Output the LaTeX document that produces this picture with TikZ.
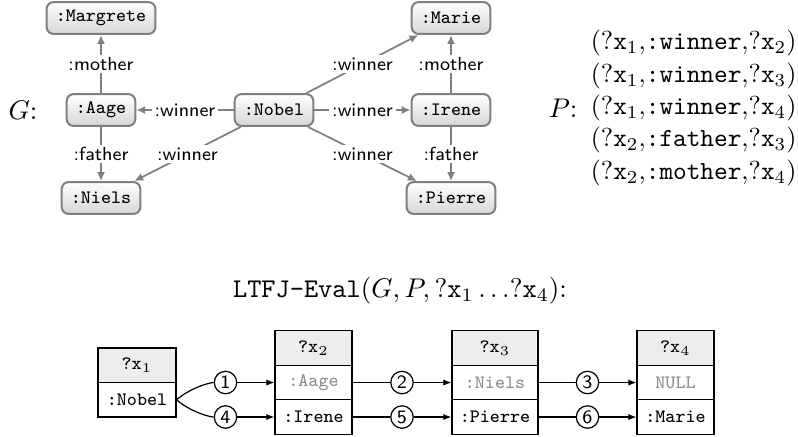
\documentclass[tikz,border=0pt]{standalone}
\usepackage{graphicx}
\usetikzlibrary{arrows.meta}
\newcommand{\ptrip}[1]{\scalebox{0.963}{#1}}
\begin{document}
\begin{tikzpicture}[x=0.37pt,y=-0.37pt,
  gnode/.style={draw=gray, line width=0.75pt, rounded corners=2.6pt, top color=white, bottom color=black!16,
    font=\ttfamily\scriptsize, minimum height=11.8pt, inner xsep=3.4pt, inner ysep=0pt},
  gedge/.style={draw=gray, line width=0.65pt, -{Latex[length=3.3pt,width=3pt]}},
  glabel/.style={font=\sffamily\scriptsize, fill=white, inner sep=1pt},
  cell/.style={draw, line width=0.4pt, font=\ttfamily\scriptsize, minimum height=12.77pt, inner sep=0pt},
  hdr/.style={cell, fill=black!7},
  dimtext/.style={text=black!45},
  circ/.style={draw, circle, line width=0.45pt, inner sep=0pt, minimum size=8.3pt, font=\sffamily\scriptsize},
  tarrow/.style={line width=0.45pt, -{Latex[length=3pt,width=2.3pt]}},
  tline/.style={line width=0.45pt},
  plabel/.style={anchor=east, inner sep=0pt}
]
\useasboundingbox (0,0) rectangle (798,436);

% ---- graph G ----
\node[plabel] (G) at (38,110) {$G$:};
\node[gnode] (Margrete) at (101,18) {:Margrete};
\node[gnode] (Aage) at (101,110) {:Aage};
\node[gnode] (Niels) at (101,198) {:Niels};
\node[gnode] (Nobel) at (274,110) {:Nobel};
\node[gnode] (Marie) at (451,18) {:Marie};
\node[gnode] (Irene) at (451,110) {:Irene};
\node[gnode] (Pierre) at (451,198) {:Pierre};

\draw[gedge] (Aage) -- node[glabel] {:mother} (Margrete);
\draw[gedge] (Aage) -- node[glabel] {:father} (Niels);
\draw[gedge] (Nobel) -- node[glabel] {:winner} (Aage);
\draw[gedge] (Nobel) -- node[glabel] {:winner} (Niels);
\draw[gedge] (Nobel) -- node[glabel] {:winner} (Marie);
\draw[gedge] (Nobel) -- node[glabel] {:winner} (Irene);
\draw[gedge] (Nobel) -- node[glabel] {:winner} (Pierre);
\draw[gedge] (Irene) -- node[glabel] {:mother} (Marie);
\draw[gedge] (Irene) -- node[glabel] {:father} (Pierre);

% ---- pattern P ----
\node[plabel] (P) at (578,108) {$P$:};
\node[plabel] (p1) at (797,43.2) {\ptrip{$(?\texttt{x}_1{,}\texttt{:winner}{,}?\texttt{x}_2)$}};
\node[plabel] (p2) at (797,75.6) {\ptrip{$(?\texttt{x}_1{,}\texttt{:winner}{,}?\texttt{x}_3)$}};
\node[plabel] (p3) at (797,108) {\ptrip{$(?\texttt{x}_1{,}\texttt{:winner}{,}?\texttt{x}_4)$}};
\node[plabel] (p4) at (797,140.4) {\ptrip{$(?\texttt{x}_2{,}\texttt{:father}{,}?\texttt{x}_3)$}};
\node[plabel] (p5) at (797,172.8) {\ptrip{$(?\texttt{x}_2{,}\texttt{:mother}{,}?\texttt{x}_4)$}};

% ---- title ----
\node[inner sep=0pt] (title) at (400,291) {\texttt{LTFJ-Eval}$(G,P,?\texttt{x}_1\ldots?\texttt{x}_4)$:};

% ---- tables ----
\node[hdr, minimum width=28.86pt] (x1h) at (137,365.25) {?x$_1$};
\node[cell, minimum width=28.86pt] (x1v) at (137,399.75) {:Nobel};

\node[hdr, minimum width=28.49pt] (x2h) at (313.5,348) {?x$_2$};
\node[cell, dimtext, minimum width=28.49pt] (x2a) at (313.5,382.5) {:Aage};
\node[cell, minimum width=28.49pt] (x2b) at (313.5,417) {:Irene};

\node[hdr, minimum width=31.82pt] (x3h) at (495,348) {?x$_3$};
\node[cell, dimtext, minimum width=31.82pt] (x3a) at (495,382.5) {:Niels};
\node[cell, minimum width=31.82pt] (x3b) at (495,417) {:Pierre};

\node[hdr, minimum width=28.49pt] (x4h) at (675.5,348) {?x$_4$};
\node[cell, dimtext, minimum width=28.49pt] (x4a) at (675.5,382.5) {NULL};
\node[cell, minimum width=28.49pt] (x4b) at (675.5,417) {:Marie};

\node[circ] (c1) at (225.5,382.5) {1};
\node[circ] (c4) at (225.5,417) {4};
\node[circ] (c2) at (402,382.5) {2};
\node[circ] (c5) at (402,417) {5};
\node[circ] (c3) at (587.5,382.5) {3};
\node[circ] (c6) at (587.5,417) {6};

\draw[tline] (x1v.east) .. controls +(14,-12) and +(-16,0) .. (c1);
\draw[tline] (x1v.east) .. controls +(14,12) and +(-16,0) .. (c4);
\draw[tarrow] (c1) -- (x2a);
\draw[tarrow] (c4) -- (x2b);
\draw[tline] (x2a) -- (c2);
\draw[tline] (x2b) -- (c5);
\draw[tarrow] (c2) -- (x3a);
\draw[tarrow] (c5) -- (x3b);
\draw[tline] (x3a) -- (c3);
\draw[tline] (x3b) -- (c6);
\draw[tarrow] (c3) -- (x4a);
\draw[tarrow] (c6) -- (x4b);
\end{tikzpicture}
\end{document}
